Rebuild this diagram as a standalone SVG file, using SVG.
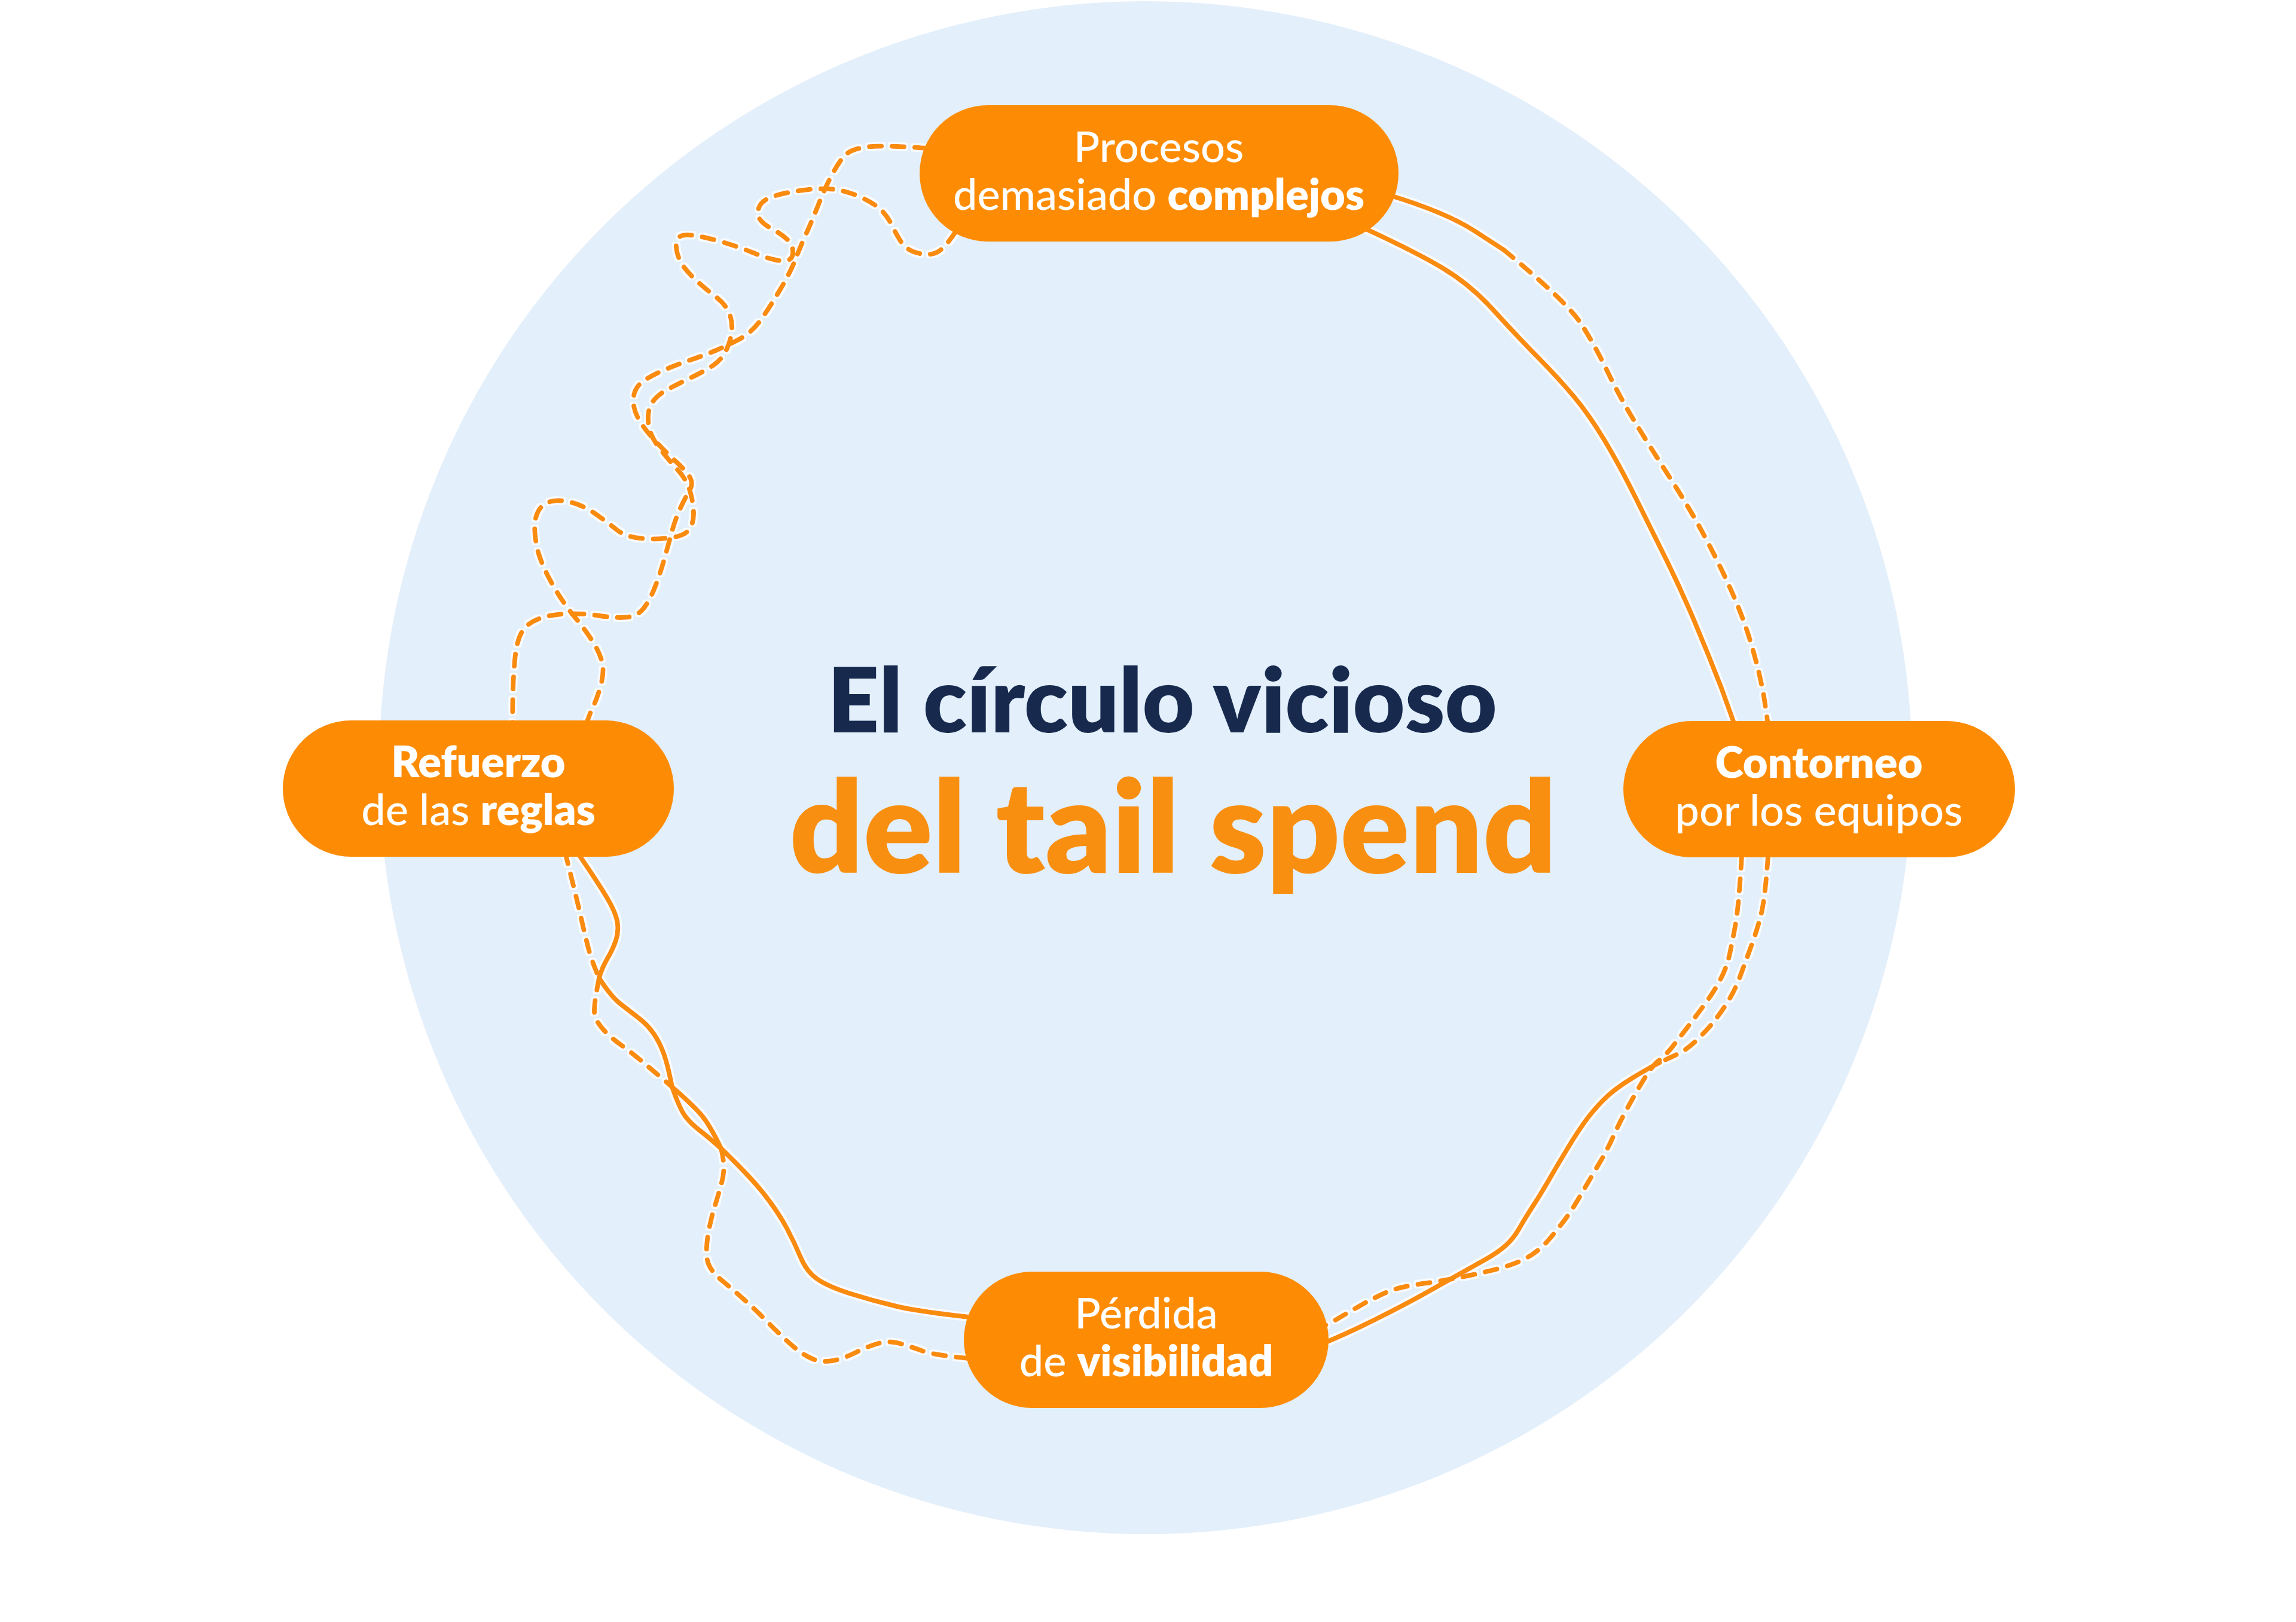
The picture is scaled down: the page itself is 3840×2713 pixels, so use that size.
<svg xmlns="http://www.w3.org/2000/svg" width="3840" height="2713" viewBox="0 0 3840 2713">
<defs>
<style>
.c{fill:none;stroke:#FA8C0C;stroke-width:8;stroke-linecap:round;stroke-linejoin:round}
.d{stroke-dasharray:20 18}
.pill{fill:#FD8C04}
.nt{font-family:Lato,"Liberation Sans",sans-serif;font-weight:500;font-size:72px;fill:#ffffff;text-anchor:middle}
.b{font-weight:800}
.t1{font-family:Lato,"Liberation Sans",sans-serif;font-weight:800;font-size:150px;fill:#172A4E;text-anchor:middle}
.t2{font-family:Lato,"Liberation Sans",sans-serif;font-weight:800;font-size:215px;fill:#F98F10;text-anchor:middle}
</style>
<filter id="halo" x="-5%" y="-5%" width="110%" height="110%">
<feMorphology in="SourceAlpha" operator="dilate" radius="3" result="d"/>
<feFlood flood-color="#ffffff" flood-opacity="0.8"/>
<feComposite in2="d" operator="in" result="w"/>
<feMerge><feMergeNode in="w"/><feMergeNode in="SourceGraphic"/></feMerge>
</filter>
</defs>
<rect width="3840" height="2713" fill="#ffffff"/>
<circle id="background-circle" cx="1916" cy="1284" r="1282" fill="#E3EFFB"/>
<g id="connectors" filter="url(#halo)">
<path class="c d" d="M1550,248 Q1474,242 1447.5,246 Q1421,250 1411,262 Q1401,274 1390.5,294 Q1380,314 1369.5,340.5 Q1359,367 1348.5,390.5 Q1338,414 1330,434.5 Q1322,455 1306.5,481.5 Q1291,508 1275,531.5 Q1259,555 1238,566.5 Q1217,578 1196.5,586.5 Q1176,595 1155,602 Q1134,609 1110.5,619 Q1087,629 1074,639 Q1061,649 1059.5,665.5 Q1058,682 1067,699 Q1076,716 1094.5,736 Q1113,756 1131,772.5 Q1149,789 1154.5,799.5 Q1160,810 1152,823 Q1144,836 1136.5,853 Q1129,870 1123.5,890 Q1118,910 1111.5,933.5 Q1105,957 1096,980.5 Q1087,1004 1076.5,1017.5 Q1066,1031 1047.5,1032.5 Q1029,1034 1003,1030 Q977,1026 951,1026.5 Q925,1027 904,1034 Q883,1041 873.5,1056 Q864,1071 861,1104.5 Q858,1138 857.5,1171.5 L857,1212"/>
<path class="c d" d="M1598,388 Q1578,418 1565,423 Q1552,428 1534,423 Q1516,418 1508,406 Q1500,394 1492,377.5 Q1484,361 1473.5,351 Q1463,341 1442,331 Q1421,321 1400.5,317.5 Q1380,314 1348.5,317.5 Q1317,321 1296,327.5 Q1275,334 1270,345.5 Q1265,357 1270,365.5 Q1275,374 1290.5,382.5 Q1306,391 1315.5,399.5 Q1325,408 1326,419.5 Q1327,431 1319.5,434.5 Q1312,438 1296,434.5 Q1280,431 1259,422.5 Q1238,414 1212,406 Q1186,398 1165,394.5 Q1144,391 1136.5,396 Q1129,401 1131.5,417.5 Q1134,434 1144.5,447.5 Q1155,461 1170.5,474.5 Q1186,488 1199,498 Q1212,508 1218.5,521.5 Q1225,535 1224,551.5 Q1223,568 1215,585 Q1207,602 1191.5,612 Q1176,622 1155,632 Q1134,642 1115.5,652 Q1097,662 1089.5,675.5 Q1082,689 1084.5,709 Q1087,729 1102.5,749 Q1118,769 1133.5,786 Q1149,803 1154.5,823 Q1160,843 1160,859.5 Q1160,876 1152,886.5 Q1144,897 1118,900 Q1092,903 1068.5,900 Q1045,897 1032,886.5 Q1019,876 998,861 Q977,846 956,840.5 Q935,835 920.5,839 Q906,843 899.5,856.5 Q893,870 894.5,890 Q896,910 901,926.5 Q906,943 916.5,963.5 Q927,984 939,1002 Q951,1020 964,1035.5 Q977,1051 990,1071 Q1003,1091 1007,1107.5 Q1011,1124 1004.5,1147.5 Q998,1171 989,1188 L980,1212"/>
<path class="c" d="M2322,326 Q2418,355 2466.5,386.5 L2515,418"/>
<path class="c d" d="M2515,418 Q2622,506 2645,542.5 Q2668,579 2688.5,621.5 Q2709,664 2734.5,706 Q2760,748 2793.5,800 Q2827,852 2852.5,900 Q2878,948 2898,993.5 Q2918,1039 2931,1084.5 Q2944,1130 2950.5,1167.5 L2957,1212"/>
<path class="c" d="M2280,381 Q2367,421 2413,448.5 Q2459,476 2497.5,518.5 Q2536,561 2571.5,597 Q2607,633 2632.5,663.5 Q2658,694 2683.5,736.5 Q2709,779 2734.5,830.5 Q2760,882 2785.5,933.5 Q2811,985 2834,1039.5 Q2857,1094 2878.5,1149.5 L2901,1212"/>
<path class="c d" d="M2913,1432 Q2908,1515 2903,1543.5 Q2898,1572 2893,1595 Q2888,1618 2877.5,1638 Q2867,1658 2852,1678.5 Q2837,1699 2824,1716 Q2811,1733 2798.5,1749 Q2786,1765 2773,1775 Q2760,1785 2734.5,1830.5 Q2709,1876 2699,1899 Q2689,1922 2673.5,1948 Q2658,1974 2643,2000 Q2628,2026 2615,2043 Q2602,2060 2589.5,2074.5 Q2577,2089 2561.5,2099 Q2546,2109 2525.5,2116 Q2505,2123 2464,2132 Q2423,2141 2382.5,2146.5 Q2342,2152 2321.5,2160.5 Q2301,2169 2275.5,2183.5 Q2250,2198 2236,2206.5 L2210,2220"/>
<path class="c d" d="M2957,1432 Q2952,1503 2945.5,1529 Q2939,1555 2928.5,1583.5 Q2918,1612 2910.5,1632.5 Q2903,1653 2893,1670 Q2883,1687 2870,1704 Q2857,1721 2839,1738.5 Q2821,1756 2806,1763 Q2791,1770 2775.5,1777.5"/>
<path class="c" d="M2775.5,1777.5 Q2760,1785 2729.5,1803.5 Q2699,1822 2681,1840.5 Q2663,1859 2650.5,1876.5 Q2638,1894 2622.5,1919.5 Q2607,1945 2592,1971 Q2577,1997 2564,2017 Q2551,2037 2541,2054.5 Q2531,2072 2518,2083.5 Q2505,2095 2484.5,2106.5 Q2464,2118 2443.5,2129.5 Q2423,2141 2387.5,2161 Q2352,2181 2301,2206.5 Q2250,2232 2208,2249"/>
<path class="c d" d="M945,1425 Q966,1509 971.5,1533.5 Q977,1558 983,1582 Q989,1606 1002,1636"/>
<path class="c" d="M965,1425 Q1002,1479 1016,1503 Q1030,1527 1032.5,1542.5 Q1035,1558 1030,1573 Q1025,1588 1016,1603 Q1007,1618 1002,1636"/>
<path class="c d" d="M1002,1636 Q992,1685 994.5,1697 Q997,1709 1009.5,1722.5 Q1022,1736 1037.5,1747 Q1053,1758 1071,1773 Q1089,1788 1124,1818"/>
<path class="c" d="M1002,1636 Q1022,1667 1037.5,1679 Q1053,1691 1068.5,1703 Q1084,1715 1094,1730 Q1104,1745 1110.5,1763.5 Q1117,1782 1124,1818"/>
<path class="c" d="M1124,1818 Q1137,1855 1146,1867 Q1155,1879 1170.5,1891 Q1186,1903 1206,1921"/>
<path class="c" d="M1124,1818 Q1155,1845 1170.5,1862 Q1186,1879 1206,1921"/>
<path class="c" d="M1206,1921 Q1257,1970 1280,2000 Q1303,2030 1316,2054.5 Q1329,2079 1339,2103 Q1349,2127 1367,2139.5 Q1385,2152 1423,2164 Q1461,2176 1499.5,2185 Q1538,2194 1630,2204"/>
<path class="c d" d="M1206,1921 Q1214,1952 1207.5,1976 Q1201,2000 1194.5,2021 Q1188,2042 1184,2066.5 Q1180,2091 1183,2107.5 Q1186,2124 1206.5,2141 Q1227,2158 1247,2176 Q1267,2194 1287.5,2215 Q1308,2236 1326,2251.5 Q1344,2267 1359,2273 Q1374,2279 1392,2276 Q1410,2273 1430.5,2262.5 Q1451,2252 1469,2247 Q1487,2242 1504.5,2247 Q1522,2252 1542.5,2259.5 Q1563,2267 1630,2273"/>
</g>
<g id="title">
<text class="t1" x="1944" y="1225">El círculo vicioso</text>
<text class="t2" x="1962" y="1460">del tail spend</text>
</g>
<g id="node-procesos">
<rect class="pill" x="1538" y="176" width="801" height="228" rx="114"/>
<text class="nt" x="1938" y="271">Procesos</text>
<text class="nt" x="1938" y="351">demasiado <tspan class="b">complejos</tspan></text>
</g>
<g id="node-contorneo">
<rect class="pill" x="2715" y="1206" width="655" height="228" rx="114"/>
<text class="nt b" x="3042" y="1301">Contorneo</text>
<text class="nt" x="3042" y="1381">por los equipos</text>
</g>
<g id="node-perdida">
<rect class="pill" x="1612" y="2127" width="610" height="228" rx="114"/>
<text class="nt" x="1917" y="2222">Pérdida</text>
<text class="nt" x="1917" y="2302">de <tspan class="b">visibilidad</tspan></text>
</g>
<g id="node-refuerzo">
<rect class="pill" x="473" y="1205" width="654" height="228" rx="114"/>
<text class="nt b" x="800" y="1300">Refuerzo</text>
<text class="nt" x="800" y="1380">de las <tspan class="b">reglas</tspan></text>
</g>
</svg>
